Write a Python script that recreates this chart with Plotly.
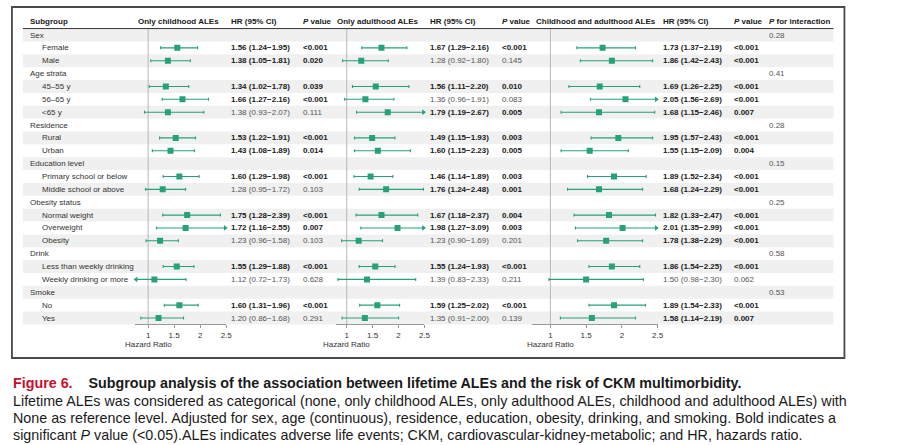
import plotly.graph_objects as go

# ---- data ----
subgroups = ["Sex", "Female", "Male",
             "Age strata", "45–55 y", "56–65 y", "<65 y",
             "Residence", "Rural", "Urban",
             "Education level", "Primary school or below", "Middle school or above",
             "Obesity status", "Normal weight", "Overweight", "Obesity",
             "Drink", "Less than weekly drinking", "Weekly drinking or more",
             "Smoke", "No", "Yes"]
groups = ["Sex", "Age strata", "Residence", "Education level", "Obesity status", "Drink", "Smoke"]
p_interaction = ["0.28", "0.41", "0.28", "0.15", "0.25", "0.58", "0.53"]

child_hr = [1.56, 1.38, 1.34, 1.66, 1.38, 1.53, 1.43, 1.60, 1.28, 1.75, 1.72, 1.23, 1.55, 1.12, 1.60, 1.20]
child_lo = [1.24, 1.05, 1.02, 1.27, 0.93, 1.22, 1.08, 1.29, 0.95, 1.28, 1.16, 0.96, 1.29, 0.72, 1.31, 0.86]
child_hi = [1.95, 1.81, 1.78, 2.16, 2.07, 1.91, 1.89, 1.98, 1.72, 2.39, 2.55, 1.58, 1.88, 1.73, 1.96, 1.68]
child_p = ["<0.001", "0.020", "0.039", "<0.001", "0.111", "<0.001", "0.014", "<0.001", "0.103",
           "<0.001", "0.007", "0.103", "<0.001", "0.628", "<0.001", "0.291"]

adult_hr = [1.67, 1.28, 1.56, 1.36, 1.79, 1.49, 1.60, 1.46, 1.76, 1.67, 1.98, 1.23, 1.55, 1.39, 1.59, 1.35]
adult_lo = [1.29, 0.92, 1.11, 0.96, 1.19, 1.15, 1.15, 1.14, 1.24, 1.18, 1.27, 0.90, 1.24, 0.83, 1.25, 0.91]
adult_hi = [2.16, 1.80, 2.20, 1.91, 2.67, 1.93, 2.23, 1.89, 2.48, 2.37, 3.09, 1.69, 1.93, 2.33, 2.02, 2.00]
adult_p = ["<0.001", "0.145", "0.010", "0.083", "0.005", "0.003", "0.005", "0.003", "0.001",
           "0.004", "0.003", "0.201", "<0.001", "0.211", "<0.001", "0.139"]

both_hr = [1.73, 1.86, 1.69, 2.05, 1.68, 1.95, 1.55, 1.89, 1.68, 1.82, 2.01, 1.78, 1.86, 1.50, 1.89, 1.58]
both_lo = [1.37, 1.42, 1.26, 1.56, 1.15, 1.57, 1.15, 1.52, 1.24, 1.33, 1.35, 1.38, 1.54, 0.98, 1.54, 1.14]
both_hi = [2.19, 2.43, 2.25, 2.69, 2.46, 2.43, 2.09, 2.34, 2.29, 2.47, 2.99, 2.29, 2.25, 2.30, 2.33, 2.19]
both_p = ["<0.001", "<0.001", "<0.001", "<0.001", "0.007", "<0.001", "0.004", "<0.001", "<0.001",
          "<0.001", "<0.001", "<0.001", "<0.001", "0.062", "<0.001", "0.007"]

tick_vals = [1, 1.5, 2, 2.5]
tick_text = ["1", "1.5", "2", "2.5"]

# ---- layout helpers ----
W, H = 914, 445
PITCH = 12.864
FIRST = 35.0
GREEN = "#26a17a"
FONT = "Arial, Liberation Sans, sans-serif"

def px(x):
    return x / W

def py(y):
    return 1 - y / H

def esc(s):
    return s.replace("<", "&lt;")

def is_sig(p):
    return p.startswith("<") or float(p) < 0.05

item_rows = [i for i, s in enumerate(subgroups) if s not in groups]
group_rows = [i for i, s in enumerate(subgroups) if s in groups]

panels = [
    dict(title="Only childhood ALEs", hr=child_hr, lo=child_lo, hi=child_hi, p=child_p,
         domain=[136 / W, 227.7 / W], rng=[0.75, 2.5], center=180, hr_x=231, p_x=303),
    dict(title="Only adulthood ALEs", hr=adult_hr, lo=adult_lo, hi=adult_hi, p=adult_p,
         domain=[338.6 / W, 427.3 / W], rng=[0.8, 2.5], center=380, hr_x=431, p_x=503),
    dict(title="Childhood and adulthood ALEs", hr=both_hr, lo=both_lo, hi=both_hi, p=both_p,
         domain=[536 / W, 662 / W], rng=[0.75, 2.5], center=600, hr_x=665.5, p_x=737),
]

fig = go.Figure()
shapes = []
annotations = []

# outer frame
shapes.append(dict(type="rect", xref="paper", yref="paper", x0=px(12), x1=px(850), y0=py(7), y1=py(358),
                   line=dict(color="#4a4a4a", width=1.8), layer="below"))
# zebra bands
for i in range(0, len(subgroups), 2):
    shapes.append(dict(type="rect", xref="paper", yref="y", x0=px(23), x1=px(839), y0=i - 0.5, y1=i + 0.5,
                       fillcolor="#eff0ef", line=dict(width=0), layer="below"))
# header underline
shapes.append(dict(type="line", xref="paper", yref="y", x0=px(23), x1=px(839), y0=-0.5, y1=-0.5,
                   line=dict(color="#333333", width=1)))

axis_pos = py(FIRST + 22.5 * PITCH)
hdr_y = (21 - FIRST) / PITCH

for k, pn in enumerate(panels, start=1):
    xa = "x" if k == 1 else f"x{k}"
    lo_lim, hi_lim = pn["rng"]
    ys = item_rows
    fig.add_trace(go.Scatter(
        x=pn["hr"], y=ys, xaxis=xa, yaxis="y", mode="markers",
        marker=dict(symbol="square", size=6, color=GREEN),
        error_x=dict(type="data", symmetric=False,
                     array=[h - m for h, m in zip(pn["hi"], pn["hr"])],
                     arrayminus=[m - l for m, l in zip(pn["hr"], pn["lo"])],
                     color=GREEN, thickness=1.1, width=1.5),
        showlegend=False, hoverinfo="skip"))
    # arrows where the CI runs past the axis
    rx = [hi_lim - 0.02 for h in pn["hi"] if h > hi_lim]
    ry = [r for r, h in zip(ys, pn["hi"]) if h > hi_lim]
    lx = [lo_lim + 0.02 for l in pn["lo"] if l < lo_lim]
    ly = [r for r, l in zip(ys, pn["lo"]) if l < lo_lim]
    fig.add_trace(go.Scatter(x=rx + lx, y=ry + ly, xaxis=xa, yaxis="y", mode="markers",
                             marker=dict(symbol=["triangle-right"] * len(rx) + ["triangle-left"] * len(lx),
                                         size=5, color=GREEN),
                             cliponaxis=False, showlegend=False, hoverinfo="skip"))
    # reference line at HR = 1
    shapes.append(dict(type="line", xref=xa, yref="y", x0=1, x1=1, y0=-0.5, y1=22.5,
                       line=dict(color="#b8b8b8", width=1), layer="below"))
    annotations.append(dict(text="Hazard Ratio", xref=xa, yref="y", x=1, y=(344 - FIRST) / PITCH,
                            showarrow=False, xanchor="center", yanchor="middle",
                            font=dict(size=8, color="#333333")))
    # headers
    annotations.append(dict(text=f"<b>{pn['title']}</b>", xref="paper", yref="y", x=px(pn["center"]), y=hdr_y,
                            showarrow=False, xanchor="center", yanchor="middle",
                            font=dict(size=8, color="#1a1a1a")))
    annotations.append(dict(text="<b>HR (95% CI)</b>", xref="paper", yref="y", x=px(pn["hr_x"]), y=hdr_y,
                            showarrow=False, xanchor="left", yanchor="middle",
                            font=dict(size=8, color="#1a1a1a")))
    annotations.append(dict(text="<b><i>P</i> value</b>", xref="paper", yref="y", x=px(pn["p_x"]), y=hdr_y,
                            showarrow=False, xanchor="left", yanchor="middle",
                            font=dict(size=8, color="#1a1a1a")))
    # values
    for r, h, l, u, p in zip(ys, pn["hr"], pn["lo"], pn["hi"], pn["p"]):
        sig = is_sig(p)
        hr_txt = f"{h:.2f} ({l:.2f}−{u:.2f})"
        col = "#1a1a1a" if sig else "#555555"
        annotations.append(dict(text=f"<b>{hr_txt}</b>" if sig else hr_txt, xref="paper", yref="y",
                                x=px(pn["hr_x"]), y=r, showarrow=False, xanchor="left", yanchor="middle",
                                font=dict(size=8, color=col)))
        annotations.append(dict(text=f"<b>{esc(p)}</b>" if sig else esc(p), xref="paper", yref="y",
                                x=px(pn["p_x"]), y=r, showarrow=False, xanchor="left", yanchor="middle",
                                font=dict(size=8, color=col)))

    fig.layout[("xaxis" if k == 1 else f"xaxis{k}")] = dict(
        domain=pn["domain"], range=pn["rng"], anchor="free", position=axis_pos,
        tickvals=tick_vals, ticktext=tick_text, ticks="outside", ticklen=3, tickcolor="#999999",
        showline=True, linecolor="#999999", linewidth=1, showgrid=False, zeroline=False,
        tickfont=dict(size=8, color="#333333", family=FONT), fixedrange=True)

# subgroup column
annotations.append(dict(text="<b>Subgroup</b>", xref="paper", yref="y", x=px(28), y=hdr_y, showarrow=False,
                        xanchor="left", yanchor="middle", font=dict(size=8, color="#1a1a1a")))
annotations.append(dict(text="<b><i>P</i> for interaction</b>", xref="paper", yref="y", x=px(772), y=hdr_y,
                        showarrow=False, xanchor="left", yanchor="middle", font=dict(size=8, color="#1a1a1a")))
for i, s in enumerate(subgroups):
    indent = 28 if s in groups else 40
    annotations.append(dict(text=esc(s), xref="paper", yref="y", x=px(indent), y=i, showarrow=False,
                            xanchor="left", yanchor="middle", font=dict(size=8, color="#333333")))
for r, v in zip(group_rows, p_interaction):
    annotations.append(dict(text=v, xref="paper", yref="y", x=px(772.5), y=r, showarrow=False,
                            xanchor="left", yanchor="middle", font=dict(size=8, color="#555555")))

# caption
caption = [
    "<b><span style='color:#c8102e'>Figure 6.</span>&nbsp;&nbsp;&nbsp; Subgroup analysis of the association between lifetime ALEs and the risk of CKM multimorbidity.</b>",
    "Lifetime ALEs was considered as categorical (none, only childhood ALEs, only adulthood ALEs, childhood and adulthood ALEs) with",
    "None as reference level. Adjusted for sex, age (continuous), residence, education, obesity, drinking, and smoking. Bold indicates a",
    "significant <i>P</i> value (&lt;0.05).ALEs indicates adverse life events; CKM, cardiovascular-kidney-metabolic; and HR, hazards ratio.",
]
cap_y = [383.3, 400.7, 418.3, 435.0]
for t, yy in zip(caption, cap_y):
    annotations.append(dict(text=t, xref="paper", yref="paper", x=px(11), y=py(yy), showarrow=False,
                            xanchor="left", yanchor="middle", font=dict(size=14.3, color="#1a1a1a", family=FONT)))

fig.update_layout(
    width=W, height=H, margin=dict(l=0, r=0, t=0, b=0),
    paper_bgcolor="white", plot_bgcolor="rgba(0,0,0,0)",
    font=dict(family=FONT, size=8, color="#333333"),
    yaxis=dict(domain=[0, 1], range=[(H - FIRST) / PITCH, -FIRST / PITCH], visible=False, fixedrange=True),
    shapes=shapes, annotations=annotations, showlegend=False,
)

# drop the default page margin so the figure sits at the window's top-left corner
fig.write_html("out.html", config={"displayModeBar": False},
               post_script="document.body.style.margin='0';document.body.style.overflow='hidden';")
